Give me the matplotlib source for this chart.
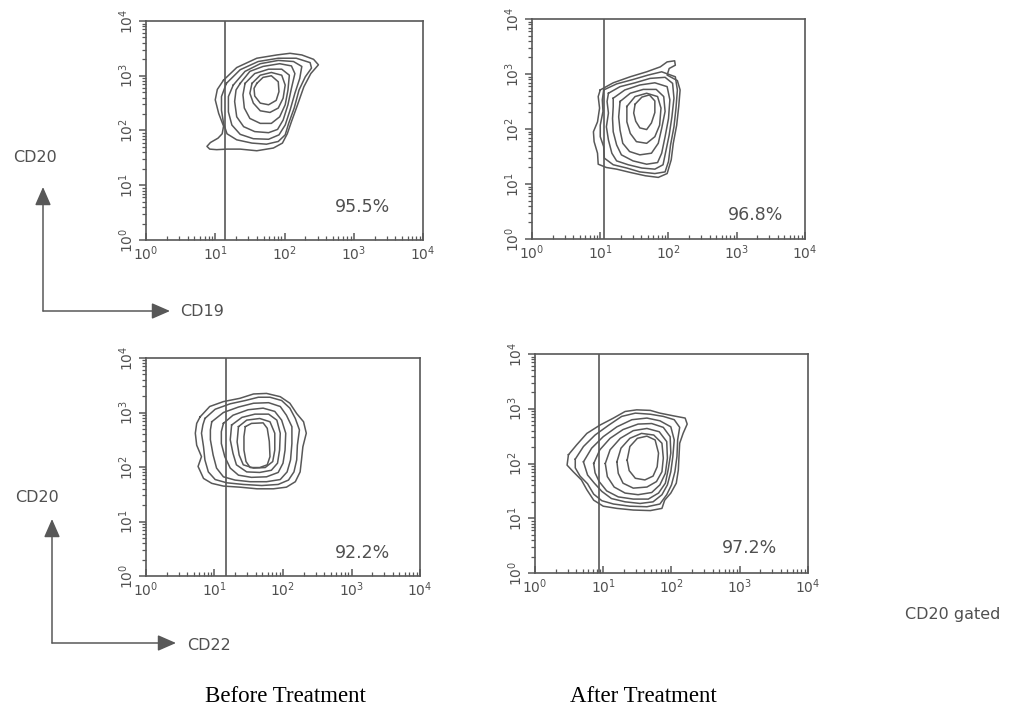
import numpy as np
import matplotlib
matplotlib.use("Agg")
import matplotlib.pyplot as plt
from matplotlib.patches import FancyArrowPatch
from matplotlib.ticker import LogLocator, NullFormatter

W, H = 1012, 713
INK = "#505050"
LINE = "#585858"

plt.rcParams["font.family"] = "DejaVu Sans"
plt.rcParams["mathtext.fontset"] = "dejavusans"

# Contour lines, in decades (log10 of intensity).
# Outer contour first, innermost last.
cd19_before_x = [
    [1.12, 1.31, 1.60, 1.89, 2.08, 2.25, 2.42, 2.49, 2.38, 2.28, 2.18, 2.10, 2.04, 1.97,
     1.84, 1.60, 1.36, 1.17, 1.02, 0.92, 0.88, 0.93, 1.04, 1.10, 1.12, 1.05, 1.00, 1.03],
    [1.16, 1.36, 1.62, 1.91, 2.17, 2.37, 2.39, 2.30, 2.21, 2.14, 2.06, 2.01, 1.91, 1.74,
     1.53, 1.31, 1.17, 1.12, 1.09, 1.09],
    [1.26, 1.43, 1.65, 1.91, 2.13, 2.25, 2.22, 2.15, 2.08, 2.01, 1.92, 1.77, 1.55, 1.36,
     1.24, 1.19, 1.19],
    [1.36, 1.50, 1.69, 1.93, 2.10, 2.15, 2.10, 2.05, 1.98, 1.90, 1.77, 1.57, 1.41, 1.31,
     1.28, 1.30],
    [1.43, 1.57, 1.77, 1.96, 2.07, 2.05, 2.01, 1.93, 1.81, 1.65, 1.50, 1.42, 1.40],
    [1.53, 1.65, 1.81, 1.96, 2.01, 1.98, 1.91, 1.79, 1.65, 1.55, 1.50],
    [1.60, 1.69, 1.81, 1.91, 1.92, 1.88, 1.77, 1.65, 1.57, 1.56],
]
cd19_before_y = [
    [2.92, 3.15, 3.32, 3.38, 3.41, 3.38, 3.30, 3.20, 3.04, 2.80, 2.44, 2.16, 1.94, 1.77,
     1.68, 1.63, 1.66, 1.66, 1.65, 1.66, 1.71, 1.78, 1.86, 1.94, 2.08, 2.31, 2.56, 2.75],
    [2.86, 3.11, 3.26, 3.32, 3.32, 3.24, 3.14, 2.98, 2.74, 2.41, 2.13, 1.92, 1.80, 1.75,
     1.77, 1.83, 1.94, 2.13, 2.37, 2.62],
    [2.83, 3.08, 3.22, 3.28, 3.26, 3.17, 2.95, 2.68, 2.37, 2.10, 1.92, 1.84, 1.85, 1.93,
     2.10, 2.34, 2.62],
    [2.86, 3.08, 3.17, 3.22, 3.18, 3.04, 2.77, 2.47, 2.19, 2.02, 1.96, 1.98, 2.07, 2.25,
     2.53, 2.74],
    [2.86, 3.04, 3.12, 3.12, 3.01, 2.74, 2.47, 2.25, 2.13, 2.13, 2.22, 2.41, 2.65],
    [2.86, 3.01, 3.06, 3.01, 2.83, 2.59, 2.41, 2.33, 2.36, 2.50, 2.68],
    [2.86, 2.97, 3.00, 2.89, 2.71, 2.55, 2.47, 2.50, 2.63, 2.77],
]

cd19_after_x = [
    [1.00, 1.19, 1.44, 1.68, 1.88, 1.98, 2.09, 2.10, 2.01, 1.98, 2.13, 2.17, 2.15, 2.12,
     2.07, 2.04, 1.98, 1.85, 1.66, 1.44, 1.24, 1.09, 0.97, 0.96, 0.91, 0.90, 0.96, 0.99, 0.97],
    [1.05, 1.24, 1.48, 1.70, 1.90, 2.10, 2.13, 2.11, 2.08, 2.03, 2.00, 1.95, 1.80, 1.58,
     1.39, 1.19, 1.06, 1.05, 1.00, 1.00, 1.04, 1.03],
    [1.12, 1.29, 1.51, 1.73, 1.95, 2.06, 2.08, 2.05, 2.01, 1.96, 1.92, 1.80, 1.61, 1.41,
     1.24, 1.17, 1.12, 1.09, 1.12, 1.10],
    [1.19, 1.36, 1.58, 1.80, 1.98, 2.02, 2.00, 1.95, 1.90, 1.84, 1.68, 1.48, 1.31, 1.24,
     1.19, 1.18, 1.19],
    [1.29, 1.44, 1.63, 1.82, 1.93, 1.95, 1.90, 1.85, 1.75, 1.58, 1.43, 1.33, 1.29, 1.27],
    [1.39, 1.51, 1.68, 1.84, 1.89, 1.87, 1.80, 1.68, 1.53, 1.44, 1.39],
    [1.51, 1.61, 1.72, 1.80, 1.80, 1.75, 1.68, 1.58, 1.52, 1.49],
]
cd19_after_y = [
    [2.71, 2.84, 2.95, 3.04, 3.13, 3.22, 3.24, 3.16, 3.10, 2.98, 2.88, 2.71, 2.41, 2.07,
     1.74, 1.44, 1.19, 1.12, 1.15, 1.21, 1.27, 1.30, 1.36, 1.56, 1.77, 1.95, 2.13, 2.38, 2.59],
    [2.71, 2.82, 2.90, 2.98, 3.04, 2.95, 2.71, 2.38, 2.04, 1.71, 1.41, 1.22, 1.19, 1.22,
     1.29, 1.35, 1.47, 1.68, 1.86, 2.07, 2.32, 2.53],
    [2.65, 2.77, 2.84, 2.92, 2.94, 2.83, 2.56, 2.22, 1.89, 1.59, 1.35, 1.27, 1.29, 1.35,
     1.42, 1.56, 1.80, 2.04, 2.29, 2.50],
    [2.56, 2.71, 2.80, 2.84, 2.77, 2.53, 2.19, 1.86, 1.56, 1.39, 1.36, 1.42, 1.53, 1.71,
     1.95, 2.19, 2.41],
    [2.50, 2.65, 2.72, 2.72, 2.59, 2.32, 2.01, 1.74, 1.56, 1.53, 1.59, 1.74, 1.98, 2.22],
    [2.41, 2.59, 2.65, 2.59, 2.38, 2.07, 1.86, 1.74, 1.77, 1.92, 2.13],
    [2.45, 2.58, 2.62, 2.51, 2.30, 2.11, 1.99, 2.02, 2.14, 2.29],
]

cd22_before_x = [
    [0.79, 0.93, 1.13, 1.37, 1.57, 1.76, 1.96, 2.10, 2.20, 2.30, 2.34, 2.29, 2.27, 2.25,
     2.18, 2.05, 1.86, 1.62, 1.37, 1.13, 0.96, 0.84, 0.76, 0.81, 0.74, 0.72, 0.74],
    [0.86, 1.01, 1.23, 1.45, 1.64, 1.81, 1.98, 2.10, 2.18, 2.24, 2.21, 2.20, 2.16, 2.08,
     1.93, 1.69, 1.42, 1.18, 1.01, 0.91, 0.86, 0.84, 0.81, 0.83],
    [0.96, 1.13, 1.35, 1.57, 1.79, 1.96, 2.05, 2.13, 2.13, 2.11, 2.06, 1.96, 1.76, 1.52,
     1.30, 1.13, 1.03, 0.98, 0.94, 0.94],
    [1.13, 1.27, 1.49, 1.71, 1.88, 1.98, 2.04, 2.03, 2.00, 1.93, 1.76, 1.54, 1.35, 1.23,
     1.15, 1.10, 1.10],
    [1.25, 1.40, 1.59, 1.79, 1.91, 1.96, 1.95, 1.92, 1.83, 1.66, 1.47, 1.32, 1.27, 1.23],
    [1.35, 1.47, 1.66, 1.81, 1.88, 1.88, 1.85, 1.74, 1.57, 1.42, 1.36, 1.33],
    [1.45, 1.54, 1.71, 1.77, 1.80, 1.81, 1.77, 1.66, 1.52, 1.46, 1.43, 1.43],
]
cd22_before_y = [
    [2.92, 3.11, 3.20, 3.26, 3.34, 3.35, 3.29, 3.17, 2.98, 2.83, 2.62, 2.37, 2.13, 1.91,
     1.73, 1.63, 1.60, 1.60, 1.63, 1.65, 1.70, 1.79, 2.01, 2.19, 2.40, 2.62, 2.80],
    [2.89, 3.06, 3.16, 3.22, 3.28, 3.28, 3.22, 3.08, 2.89, 2.68, 2.40, 2.13, 1.91, 1.76,
     1.68, 1.66, 1.68, 1.71, 1.77, 1.91, 2.13, 2.37, 2.62, 2.77],
    [2.83, 3.00, 3.10, 3.17, 3.18, 3.11, 2.95, 2.74, 2.43, 2.13, 1.91, 1.77, 1.73, 1.73,
     1.76, 1.82, 1.98, 2.22, 2.50, 2.68],
    [2.80, 2.95, 3.05, 3.08, 3.02, 2.86, 2.62, 2.31, 2.07, 1.90, 1.82, 1.81, 1.85, 1.98,
     2.19, 2.43, 2.65],
    [2.77, 2.91, 2.97, 2.97, 2.86, 2.62, 2.31, 2.07, 1.94, 1.90, 1.91, 2.04, 2.25, 2.50],
    [2.74, 2.86, 2.89, 2.83, 2.62, 2.31, 2.10, 1.99, 1.98, 2.04, 2.22, 2.46],
    [2.74, 2.80, 2.81, 2.71, 2.47, 2.19, 2.04, 1.99, 1.99, 2.10, 2.31, 2.56],
]

cd22_after_x = [
    [0.49, 0.61, 0.76, 0.95, 1.15, 1.32, 1.49, 1.69, 1.83, 2.03, 2.20, 2.23, 2.17, 2.12,
     2.11, 2.10, 2.07, 1.99, 1.90, 1.86, 1.69, 1.44, 1.20, 1.00, 0.86, 0.76, 0.68, 0.56, 0.47],
    [0.59, 0.71, 0.88, 1.08, 1.27, 1.47, 1.69, 1.88, 2.04, 2.12, 2.09, 2.08, 2.05, 2.00,
     1.93, 1.83, 1.64, 1.39, 1.15, 0.98, 0.86, 0.77, 0.66, 0.59],
    [0.71, 0.83, 1.00, 1.20, 1.42, 1.64, 1.83, 1.99, 2.04, 2.02, 1.99, 1.94, 1.86, 1.73,
     1.54, 1.32, 1.12, 0.98, 0.87, 0.77],
    [0.86, 0.95, 1.10, 1.29, 1.51, 1.71, 1.88, 1.98, 1.99, 1.95, 1.91, 1.81, 1.66, 1.44,
     1.22, 1.05, 0.94, 0.88],
    [1.03, 1.10, 1.25, 1.44, 1.64, 1.82, 1.93, 1.94, 1.91, 1.83, 1.71, 1.51, 1.32, 1.16, 1.06],
    [1.20, 1.26, 1.39, 1.56, 1.74, 1.86, 1.88, 1.86, 1.78, 1.64, 1.44, 1.29, 1.22],
    [1.35, 1.39, 1.50, 1.64, 1.76, 1.81, 1.79, 1.73, 1.61, 1.47, 1.38],
]
cd22_after_y = [
    [2.16, 2.34, 2.55, 2.70, 2.83, 2.95, 2.98, 2.97, 2.92, 2.87, 2.83, 2.72, 2.55, 2.37,
     2.13, 1.88, 1.64, 1.46, 1.33, 1.18, 1.14, 1.15, 1.18, 1.22, 1.33, 1.52, 1.70, 1.85, 1.97],
    [2.08, 2.31, 2.52, 2.70, 2.86, 2.92, 2.90, 2.86, 2.80, 2.66, 2.43, 2.13, 1.85, 1.61,
     1.43, 1.26, 1.21, 1.22, 1.26, 1.32, 1.44, 1.63, 1.77, 1.92],
    [2.03, 2.28, 2.49, 2.67, 2.80, 2.83, 2.78, 2.67, 2.43, 2.13, 1.85, 1.61, 1.43, 1.30,
     1.27, 1.30, 1.36, 1.49, 1.64, 1.79],
    [2.00, 2.25, 2.46, 2.62, 2.72, 2.73, 2.66, 2.49, 2.19, 1.88, 1.64, 1.46, 1.35, 1.35,
     1.39, 1.50, 1.67, 1.83],
    [2.00, 2.25, 2.46, 2.60, 2.64, 2.58, 2.40, 2.10, 1.82, 1.61, 1.47, 1.43, 1.46, 1.57, 1.76],
    [2.03, 2.28, 2.46, 2.55, 2.52, 2.37, 2.10, 1.85, 1.67, 1.57, 1.55, 1.64, 1.82],
    [2.06, 2.31, 2.46, 2.50, 2.43, 2.19, 1.94, 1.77, 1.70, 1.73, 1.87],
]

# Gate position (decades) and percentage of gated cells
gates = [1.14, 1.05, 1.17, 0.94]
percents = ["95.5%", "96.8%", "92.2%", "97.2%"]

# Axes boxes in reference pixels: left, top, right, bottom
boxes = [
    (146, 21, 423, 240),
    (532, 19, 805, 239),
    (146, 358, 420, 576),
    (535, 354, 808, 573),
]
pct_pos = [(0.78, 0.15), (0.82, 0.11), (0.79, 0.105), (0.785, 0.115)]


def fp(x, y):
    return (x / W, 1 - y / H)


def style_axes(ax):
    ax.set_xscale("log")
    ax.set_yscale("log")
    ax.set_xlim(1, 1e4)
    ax.set_ylim(1, 1e4)
    for axis in (ax.xaxis, ax.yaxis):
        axis.set_major_locator(LogLocator(base=10, numticks=10))
        axis.set_minor_locator(LogLocator(base=10, subs=np.arange(2, 10), numticks=10))
        axis.set_minor_formatter(NullFormatter())
    for s in ax.spines.values():
        s.set_color(LINE)
        s.set_linewidth(1.2)
    ax.tick_params(axis="x", which="both", direction="in", top=False,
                   color=LINE, labelcolor=INK, labelsize=10, pad=3)
    ax.tick_params(axis="y", which="both", direction="out", right=False,
                   color=LINE, labelcolor=INK, labelsize=10, pad=2,
                   labelrotation=90)
    ax.tick_params(which="major", length=5, width=1.1)
    ax.tick_params(which="minor", length=3, width=0.9)
    for lab in ax.get_yticklabels():
        lab.set_va("center")


fig = plt.figure(figsize=(W / 100, H / 100), dpi=100)
fig.patch.set_facecolor("white")

panels = [
    (cd19_before_x, cd19_before_y),
    (cd19_after_x, cd19_after_y),
    (cd22_before_x, cd22_before_y),
    (cd22_after_x, cd22_after_y),
]

for (xs, ys), box, gate, pct, ppos in zip(panels, boxes, gates, percents, pct_pos):
    l, t, r, b = box
    ax = fig.add_axes([l / W, 1 - b / H, (r - l) / W, (b - t) / H])
    style_axes(ax)
    for cx, cy in zip(xs, ys):
        cx = np.array(cx + cx[:1])
        cy = np.array(cy + cy[:1])
        ax.plot(10 ** cx, 10 ** cy, color=LINE, lw=1.1, solid_joinstyle="round")
    ax.axvline(10 ** gate, color=LINE, lw=1.2)
    ax.text(ppos[0], ppos[1], pct, transform=ax.transAxes, ha="center",
            va="center", fontsize=12.5, color=INK)


def corner_arrow(corner, tip):
    fig.add_artist(FancyArrowPatch(fp(*corner), fp(*tip), transform=fig.transFigure,
                                   arrowstyle="-|>,head_length=0.8,head_width=0.35",
                                   mutation_scale=14, lw=1.1, color=LINE,
                                   shrinkA=0, shrinkB=0))


corner_arrow((43, 311), (43, 187))
corner_arrow((43, 311), (170, 311))
corner_arrow((52, 643), (52, 519))
corner_arrow((52, 643), (176, 643))

fig.text(*fp(13, 158), "CD20", ha="left", va="center", fontsize=11.5, color=INK)
fig.text(*fp(180, 311), "CD19", ha="left", va="center", fontsize=11.5, color=INK)
fig.text(*fp(15, 497), "CD20", ha="left", va="center", fontsize=11.5, color=INK)
fig.text(*fp(187, 646), "CD22", ha="left", va="center", fontsize=11.5, color=INK)
fig.text(*fp(1000, 615), "CD20 gated", ha="right", va="center", fontsize=11.5, color=INK)

fig.text(*fp(285, 697), "Before Treatment", ha="center", va="center",
         fontsize=16.5, family="Liberation Serif", color="black")
fig.text(*fp(643, 697), "After Treatment", ha="center", va="center",
         fontsize=16.5, family="Liberation Serif", color="black")

fig.savefig("out.png", dpi=100)
